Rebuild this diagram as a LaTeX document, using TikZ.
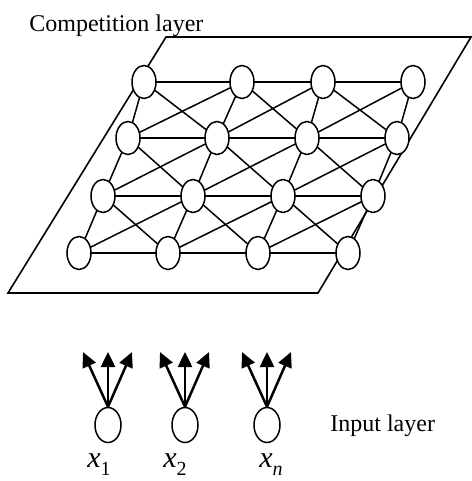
\documentclass[tikz,border=0pt]{standalone}
\usepackage{fontspec}
\setmainfont{Liberation Serif}
\usetikzlibrary{shapes.geometric,arrows.meta}
\begin{document}
\begin{tikzpicture}[x=0.5pt,y=-0.5pt,
  cnode/.style={ellipse,draw,fill=white,line width=0.75pt,minimum width=12pt,minimum height=16.5pt,inner sep=0pt},
  inode/.style={ellipse,draw,fill=white,line width=0.75pt,minimum width=13pt,minimum height=17.5pt,inner sep=0pt},
  edge/.style={line width=0.75pt},
  plane/.style={line width=0.8pt},
  up/.style={line width=1.25pt,-{Triangle[length=7.5pt,width=7pt]}},
  lbl/.style={font=\fontsize{12}{14}\selectfont,inner sep=0pt,anchor=base west},
  var/.style={font=\fontsize{15}{16}\selectfont,inner sep=0pt,anchor=base west}
]
\useasboundingbox (0,0) rectangle (471,481);
% plane
\draw[plane] (166,37) -- (471,37) -- (318,293) -- (8,293) -- cycle;
% competition nodes coordinates
\coordinate (p11) at (144,82);  \coordinate (p12) at (242,82);  \coordinate (p13) at (323,82);  \coordinate (p14) at (413,82);
\coordinate (p21) at (128,138); \coordinate (p22) at (217,138); \coordinate (p23) at (307,138); \coordinate (p24) at (397,138);
\coordinate (p31) at (103,196); \coordinate (p32) at (193,196); \coordinate (p33) at (283,196); \coordinate (p34) at (373,196);
\coordinate (p41) at (79,253);  \coordinate (p42) at (168,253); \coordinate (p43) at (258,253); \coordinate (p44) at (348,253);
% edges
\foreach \r in {1,...,4}{
  \foreach \c [evaluate=\c as \d using int(\c+1)] in {1,2,3}{
    \draw[edge] (p\r\c) -- (p\r\d);
  }
}
\foreach \r [evaluate=\r as \s using int(\r+1)] in {1,2,3}{
  \foreach \c in {1,...,4}{
    \draw[edge] (p\r\c) -- (p\s\c);
  }
  \foreach \c [evaluate=\c as \d using int(\c+1)] in {1,2,3}{
    \draw[edge] (p\r\c) -- (p\s\d);
    \draw[edge] (p\s\c) -- (p\r\d);
  }
}
% nodes
\foreach \r in {1,...,4}{
  \foreach \c in {1,...,4}{
    \node[cnode] (n\r\c) at (p\r\c) {};
  }
}
\node[lbl] (comp) at (29,32) {Competition layer};
% input layer
\node[inode] (in1) at (108,425) {};
\node[inode] (in2) at (185,425) {};
\node[inode] (in3) at (267,425) {};
\foreach \i/\x in {1/108,2/185,3/267}{
  \coordinate (t\i l) at (\x-25,352);
  \coordinate (t\i m) at (\x,352);
  \coordinate (t\i r) at (\x+24,352);
  \draw[up] (in\i.north) -- (t\i l);
  \draw[up] (in\i.north) -- (t\i m);
  \draw[up] (in\i.north) -- (t\i r);
}
\node[lbl] (inl) at (330,431) {Input layer};
\node[var] (x1) at (87,467) {\textit{x}\raisebox{-0.6ex}{\fontsize{10}{11}\selectfont 1}};
\node[var] (x2) at (163,467) {\textit{x}\raisebox{-0.6ex}{\fontsize{10}{11}\selectfont 2}};
\node[var] (xn) at (259,467) {\textit{x}\raisebox{-0.6ex}{\fontsize{10}{11}\selectfont\itshape n}};
\end{tikzpicture}
\end{document}
